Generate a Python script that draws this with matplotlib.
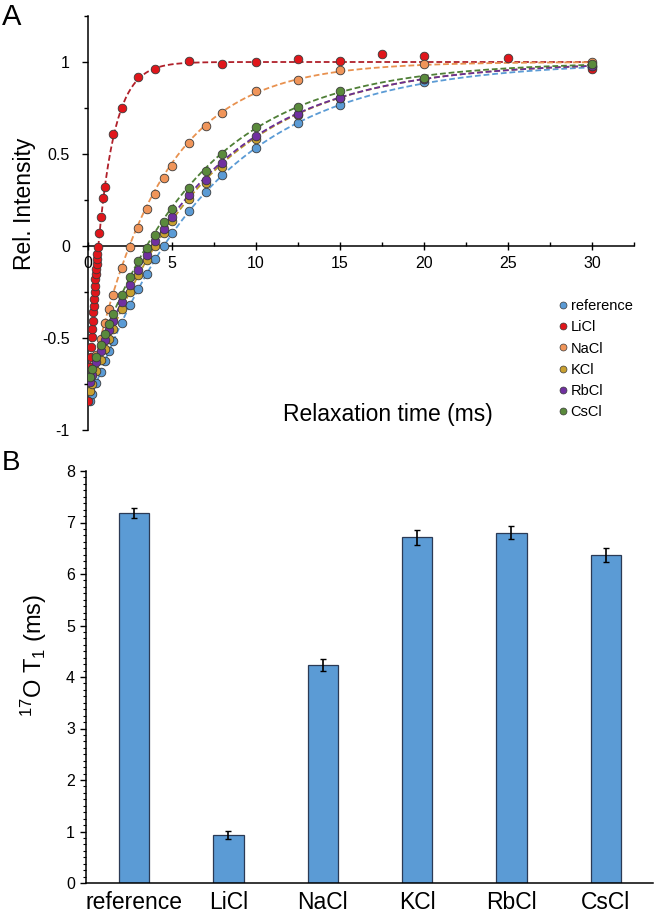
import matplotlib
matplotlib.use('Agg')
import matplotlib.pyplot as plt
import numpy as np
from matplotlib.lines import Line2D
from matplotlib.ticker import MultipleLocator

plt.rcParams['font.family'] = ['Liberation Sans', 'DejaVu Sans']
plt.rcParams['mathtext.default'] = 'regular'

# ---------------- data ----------------
samples = ['reference', 'LiCl', 'NaCl', 'KCl', 'RbCl', 'CsCl']
colors = ['#5B9BD5', '#E0161B', '#F0955A', '#C9A030', '#7030A0', '#5A8A3C']
line_colors = ['#5B9BD5', '#B0202A', '#E8914F', '#B8962C', '#6A2E96', '#4F7F36']

# relaxation delays (ms) for the slower-relaxing samples
t_slow = [0.1, 0.25, 0.5, 0.75, 1, 1.25, 1.5, 2, 2.5, 3, 3.5, 4, 4.5, 5,
          6, 7, 8, 10, 12.5, 15, 20, 30]
I_reference = [-0.844, -0.806, -0.745, -0.685, -0.627, -0.572, -0.518, -0.417,
               -0.322, -0.233, -0.150, -0.070, -0.001, 0.068, 0.188, 0.294,
               0.385, 0.534, 0.668, 0.766, 0.890, 0.972]
I_NaCl = [-0.750, -0.690, -0.595, -0.505, -0.420, -0.340, -0.265, -0.120,
          -0.005, 0.100, 0.200, 0.285, 0.372, 0.435, 0.560, 0.650, 0.722,
          0.845, 0.900, 0.958, 0.988, 0.998]
I_KCl = [-0.790, -0.748, -0.682, -0.620, -0.561, -0.504, -0.449, -0.345,
         -0.249, -0.160, -0.078, -0.002, 0.070, 0.138, 0.258, 0.345, 0.430,
         0.580, 0.712, 0.804, 0.905, 0.979]
I_RbCl = [-0.740, -0.700, -0.632, -0.570, -0.513, -0.458, -0.405, -0.306,
          -0.214, -0.128, -0.050, 0.026, 0.095, 0.160, 0.278, 0.360, 0.450,
          0.596, 0.718, 0.805, 0.906, 0.978]
I_CsCl = [-0.710, -0.668, -0.603, -0.540, -0.480, -0.423, -0.368, -0.266,
          -0.170, -0.082, -0.010, 0.060, 0.128, 0.200, 0.315, 0.410, 0.500,
          0.645, 0.755, 0.840, 0.912, 0.990]

# LiCl uses a dense early sampling
t_LiCl = [0.02, 0.06, 0.09, 0.12, 0.15, 0.18, 0.22, 0.25, 0.28, 0.31, 0.33,
          0.36, 0.39, 0.41, 0.44, 0.47, 0.49, 0.51, 0.53, 0.56, 0.59, 0.67,
          0.76, 0.88, 1.0, 1.5, 2, 3, 4, 6, 8, 10, 12.5, 15, 17.5, 20, 25, 30]
I_LiCl = [-0.841, -0.768, -0.714, -0.659, -0.605, -0.551, -0.496, -0.451,
          -0.406, -0.360, -0.324, -0.288, -0.252, -0.216, -0.179, -0.152,
          -0.125, -0.098, -0.071, -0.043, -0.007, 0.069, 0.156, 0.260, 0.320,
          0.610, 0.750, 0.920, 0.962, 1.007, 0.987, 1.000, 1.016, 1.007,
          1.043, 1.030, 1.020, 0.962]

# mono-exponential fit parameters: I(t) = 1 - A*exp(-t/T1)
fit_T1 = [7.2, 1.0, 4.23, 6.72, 6.8, 6.37]
fit_A = [1.87, 1.85, 1.79, 1.81, 1.75, 1.73]

# panel B: 17O T1 values (ms) and errors
T1_ms = [7.19, 0.93, 4.23, 6.71, 6.80, 6.37]
T1_err = [0.10, 0.08, 0.12, 0.14, 0.13, 0.13]

series_t = [t_slow, t_LiCl, t_slow, t_slow, t_slow, t_slow]
series_I = [I_reference, I_LiCl, I_NaCl, I_KCl, I_RbCl, I_CsCl]

# ---------------- figure ----------------
W, H = 654, 914
fig = plt.figure(figsize=(W / 100, H / 100), dpi=100)

def fbox(l, t, r, b):
    return [l / W, 1 - b / H, (r - l) / W, (b - t) / H]

# ---- panel A ----
ax = fig.add_axes(fbox(88, 16, 634, 430))
t_fit = np.linspace(0.0, 30.0, 400)
for k in range(len(samples)):
    curve = 1 - fit_A[k] * np.exp(-t_fit / fit_T1[k])
    ax.plot(t_fit, curve, linestyle=(0, (3.2, 1.6)), color=line_colors[k],
            lw=1.3, zorder=2)
for k in range(len(samples)):
    ax.plot(series_t[k], series_I[k], 'o', ms=6.2, mfc=colors[k],
            mec='#3a3a3a', mew=0.6, zorder=3 + k * 0.01)

ax.set_xlim(0, 32.5)
ax.set_ylim(-1.0, 1.25)
ax.spines['left'].set_position(('data', 0))
ax.spines['bottom'].set_position(('data', 0))
ax.spines['top'].set_visible(False)
ax.spines['right'].set_visible(False)
for s in ('left', 'bottom'):
    ax.spines[s].set_linewidth(1.1)
ax.set_xticks([0, 5, 10, 15, 20, 25, 30])
ax.xaxis.set_minor_locator(MultipleLocator(2.5))
ax.set_yticks([-1, -0.5, 0, 0.5, 1])
ax.set_yticklabels(['-1', '-0.5', '0', '0.5', '1'])
ax.yaxis.set_minor_locator(MultipleLocator(0.25))
ax.tick_params(axis='x', which='major', direction='inout', length=6, width=1.0,
               labelsize=11.5, pad=4)
ax.tick_params(axis='x', which='minor', direction='in', length=3, width=1.0)
ax.tick_params(axis='y', which='major', direction='out', length=4, width=1.0,
               labelsize=11.5, pad=9)
ax.tick_params(axis='y', which='minor', direction='out', length=3, width=1.0)

fig.text(25 / W, 1 - 204 / H, 'Rel. Intensity', rotation=90, ha='center',
         va='center', fontsize=16.5)
fig.text(388 / W, 1 - 414 / H, 'Relaxation time (ms)', ha='center',
         va='center', fontsize=16.5)
fig.text(2 / W, 1 - 17 / H, 'A', ha='left', va='center', fontsize=21)

handles = [Line2D([], [], ls='none', marker='o', ms=5, mfc=colors[k],
                  mec='#3a3a3a', mew=0.5) for k in range(len(samples))]
fig.legend(handles, samples, loc='upper left',
           bbox_to_anchor=(559 / W, 1 - 299 / H), frameon=False,
           fontsize=10.5, handlelength=0.6, handletextpad=0.2,
           labelspacing=0.5, borderpad=0, borderaxespad=0)

# ---- panel B ----
ax2 = fig.add_axes(fbox(86, 471, 653, 883))
x = np.arange(len(samples))
ax2.bar(x, T1_ms, width=0.32, color='#5B9BD5', edgecolor='#2B3A55',
        linewidth=0.9, zorder=2)
ax2.errorbar(x, T1_ms, yerr=T1_err, fmt='none', ecolor='black', elinewidth=1.2,
             capsize=2.2, capthick=1.0, zorder=3)
ax2.set_xlim(-0.51, 5.5)
ax2.set_ylim(0, 8)
ax2.spines['top'].set_visible(False)
ax2.spines['right'].set_visible(False)
for s in ('left', 'bottom'):
    ax2.spines[s].set_linewidth(1.1)
ax2.set_xticks(x)
ax2.set_xticklabels(samples)
ax2.set_yticks(range(0, 9))
ax2.yaxis.set_minor_locator(MultipleLocator(0.125))
ax2.tick_params(axis='x', length=0, labelsize=16.5, pad=6)
ax2.tick_params(axis='y', which='major', direction='out', length=4, width=1.0,
                labelsize=11.5, pad=4)
ax2.tick_params(axis='y', which='minor', direction='out', length=2.2, width=0.8)

fig.text(34 / W, 1 - 655 / H, '$^{17}$O T$_1$ (ms)', rotation=90, ha='center',
         va='center', fontsize=17)
fig.text(2 / W, 1 - 463 / H, 'B', ha='left', va='center', fontsize=20)

fig.savefig('out.png', dpi=100)
